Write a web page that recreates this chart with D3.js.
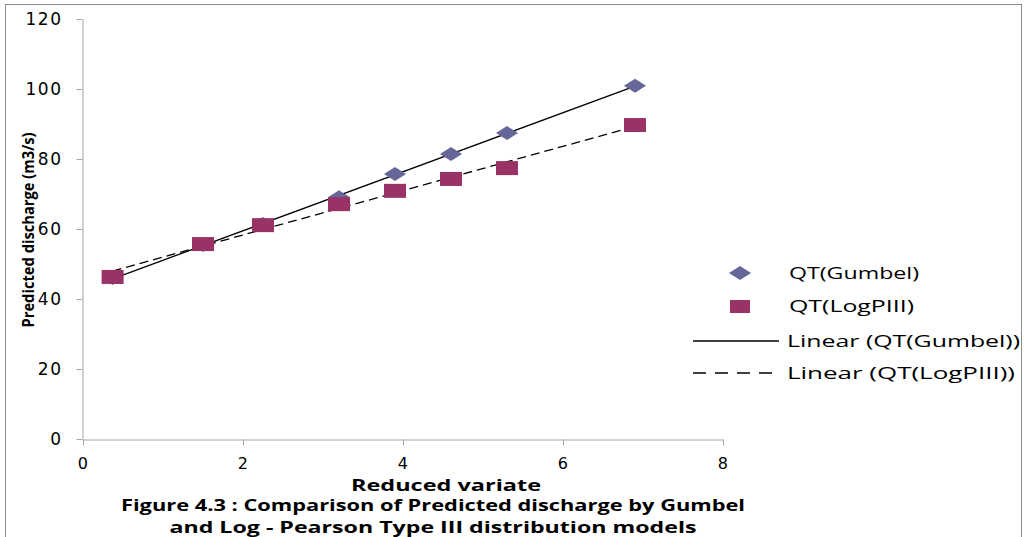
<!DOCTYPE html>
<html>
<head>
<meta charset="utf-8">
<script src="https://cdn.jsdelivr.net/npm/d3@7"></script>
<style>
  body { margin: 0; background: #fff; }
  text { font-family: "Open Sans", "DejaVu Sans", sans-serif; }
</style>
</head>
<body>
<div id="chart"></div>
<script>
// reduced variate (x) and predicted discharge values
const reducedVariate = [0.37, 1.5, 2.25, 3.2, 3.9, 4.6, 5.3, 6.9];
const qtGumbel = [46.0, 55.4, 61.4, 69.1, 75.7, 81.4, 87.4, 100.9];
const qtLogPIII = [46.3, 55.7, 61.1, 67.1, 70.9, 74.3, 77.4, 89.7];
const xTicks = [0, 2, 4, 6, 8];
const yTicks = [0, 20, 40, 60, 80, 100, 120];
const legendLabels = ['QT(Gumbel)', 'QT(LogPIII)', 'Linear (QT(Gumbel))', 'Linear (QT(LogPIII))'];

const W = 1027, H = 537;
const svg = d3.select('#chart').append('svg')
  .attr('width', W).attr('height', H);

// outer frame
svg.append('rect')
  .attr('x', 5.5).attr('y', 4.5)
  .attr('width', 1016).attr('height', 560)
  .attr('fill', 'none').attr('stroke', '#8c8c8c');

const x = d3.scaleLinear().domain([0, 8]).range([83, 723]);
const y = d3.scaleLinear().domain([0, 120]).range([439, 19]);

// y axis
const yAxis = svg.append('g')
  .attr('transform', 'translate(82.5,0)')
  .call(d3.axisLeft(y).tickValues(yTicks).tickSize(6).tickSizeOuter(0).tickPadding(14));
// x axis
const xAxis = svg.append('g')
  .attr('transform', 'translate(0,439.5)')
  .call(d3.axisBottom(x).tickValues(xTicks).tickSize(6).tickSizeOuter(0).tickPadding(12));

[yAxis, xAxis].forEach(a => {
  a.select('.domain').attr('stroke', '#a6a6a6');
  a.selectAll('.tick line').attr('stroke', '#a6a6a6');
  a.selectAll('.tick text')
    .attr('fill', '#000')
    .style('font-size', '17px')
    .style('letter-spacing', '1.5px')
    .style('font-family', '"DejaVu Sans", sans-serif');
});
yAxis.selectAll('.tick text').attr('dy', '0.35em');
xAxis.selectAll('.tick text').style('font-size', '16px');

// least-squares trend line
function fit(xs, ys) {
  const mx = d3.mean(xs), my = d3.mean(ys);
  const sxy = d3.sum(xs, (v, i) => (v - mx) * (ys[i] - my));
  const sxx = d3.sum(xs, v => (v - mx) * (v - mx));
  const b = sxy / sxx;
  return { b, a: my - b * mx };
}
const xExt = d3.extent(reducedVariate);
const line = d3.line().x(d => x(d[0])).y(d => y(d[1]));

[[qtGumbel, null], [qtLogPIII, '9,5']].forEach(([ys, dash]) => {
  const f = fit(reducedVariate, ys);
  svg.append('path')
    .attr('d', line(xExt.map(v => [v, f.a + f.b * v])))
    .attr('fill', 'none').attr('stroke', '#000').attr('stroke-width', 1.3)
    .attr('stroke-dasharray', dash);
});

const diamond = (cx, cy) => `M${cx - 11},${cy}L${cx},${cy - 7}L${cx + 11},${cy}L${cx},${cy + 7}Z`;

// Gumbel diamonds
svg.selectAll('.gum').data(reducedVariate).enter().append('path')
  .attr('class', 'gum')
  .attr('d', (d, i) => diamond(x(d), y(qtGumbel[i])))
  .attr('fill', '#666699');

// LogPIII squares
svg.selectAll('.lp3').data(reducedVariate).enter().append('rect')
  .attr('class', 'lp3')
  .attr('x', d => x(d) - 11)
  .attr('y', (d, i) => y(qtLogPIII[i]) - 7)
  .attr('width', 22).attr('height', 14)
  .attr('fill', '#993366');

// legend
const lg = svg.append('g');
lg.append('path').attr('d', diamond(740, 273)).attr('fill', '#666699');
lg.append('rect').attr('x', 730).attr('y', 300).attr('width', 20).attr('height', 13).attr('fill', '#993366');
lg.append('line').attr('x1', 693).attr('x2', 779).attr('y1', 341).attr('y2', 341)
  .attr('stroke', '#000').attr('stroke-width', 1.3);
lg.append('line').attr('x1', 693).attr('x2', 779).attr('y1', 373).attr('y2', 373)
  .attr('stroke', '#000').attr('stroke-width', 1.3).attr('stroke-dasharray', '13,9');
const legendY = [273, 306, 341, 373];
const legendX = [789, 789, 787, 787];
const legendLen = [130, 125, 233, 228];
lg.selectAll('.lt').data(legendLabels).enter().append('text')
  .attr('x', (d, i) => legendX[i]).attr('y', (d, i) => legendY[i])
  .attr('dy', '0.35em')
  .attr('textLength', (d, i) => legendLen[i]).attr('lengthAdjust', 'spacingAndGlyphs')
  .style('font-size', '16px')
  .text(d => d);

// axis titles
svg.append('text')
  .attr('transform', 'translate(28,230) rotate(-90)')
  .attr('text-anchor', 'middle').attr('dy', '0.35em')
  .attr('textLength', 195).attr('lengthAdjust', 'spacingAndGlyphs')
  .style('font-size', '16px').style('font-weight', 'bold')
  .text('Predicted discharge (m3/s)');

svg.append('text')
  .attr('x', 446).attr('y', 485).attr('text-anchor', 'middle').attr('dy', '0.35em')
  .attr('textLength', 190).attr('lengthAdjust', 'spacingAndGlyphs')
  .style('font-size', '16px').style('font-weight', 'bold')
  .text('Reduced variate');

// figure caption
const caption = ['Figure 4.3 : Comparison of Predicted discharge by Gumbel',
  'and Log - Pearson Type III distribution models'];
const capX = [433, 433], capY = [505, 527], capLen = [624, 527];
svg.selectAll('.cap').data(caption).enter().append('text')
  .attr('x', (d, i) => capX[i]).attr('y', (d, i) => capY[i])
  .attr('text-anchor', 'middle').attr('dy', '0.35em')
  .attr('textLength', (d, i) => capLen[i]).attr('lengthAdjust', 'spacingAndGlyphs')
  .style('font-size', '16px').style('font-weight', 'bold')
  .text(d => d);
</script>
</body>
</html>
